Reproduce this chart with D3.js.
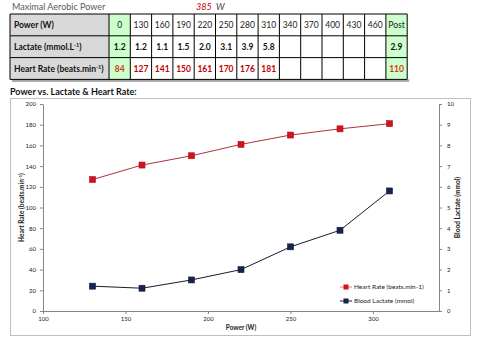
<!DOCTYPE html>
<html>
<head>
<meta charset="utf-8">
<script src="https://cdn.jsdelivr.net/npm/d3@7"></script>
<style>
  body { margin: 0; background: #fff; }
  svg { display: block; font-family: Lato, 'Open Sans', sans-serif; }
</style>
</head>
<body>
<div id="chart"></div>
<script>
// table data
const powerCols = [0, 130, 160, 190, 220, 250, 280, 310, 340, 370, 400, 430, 460, 'Post']
const lactateRow = [1.2, 1.2, 1.1, 1.5, 2.0, 3.1, 3.9, 5.8, null, null, null, null, null, 2.9]
const heartRateRow = [84, 127, 141, 150, 161, 170, 176, 181, null, null, null, null, null, 110]
const rowLabels = ['Power (W)', 'Lactate (mmol.L', 'Heart Rate (beats.min']
const maxAerobicPower = 385

// chart axes
const xTicks = [100, 150, 200, 250, 300]
const hrTicks = [0, 20, 40, 60, 80, 100, 120, 140, 160, 180, 200]
const lacTicks = [0, 1, 2, 3, 4, 5, 6, 7, 8, 9, 10]

const width = 480
const height = 354
const RED = '#c00000'
const HR_COLOR = '#d4121e'
const LAC_COLOR = '#17234f'

const svg = d3.select('#chart').append('svg')
  .attr('width', width)
  .attr('height', height)

svg.append('rect').attr('width', width).attr('height', height).attr('fill', '#fff')

// header text
svg.append('text')
  .attr('x', 12).attr('y', 10)
  .style('font-size', '9px').style('fill', '#595959')
  .text('Maximal Aerobic Power')
svg.append('text')
  .attr('x', 196).attr('y', 10)
  .style('font-size', '9px').style('fill', RED).style('font-style', 'italic')
  .text(maxAerobicPower)
svg.append('text')
  .attr('x', 216).attr('y', 10)
  .style('font-size', '9px').style('fill', '#404040').style('font-style', 'italic')
  .text('W')

// Table
const tbl = { left: 10, top: 14, labelW: 99, colW: 21.3, rowH: 21.8 }
const colX = i => tbl.left + tbl.labelW + i * tbl.colW
const rowY = r => tbl.top + r * tbl.rowH
const tableRight = colX(powerCols.length)
const tableBottom = rowY(3)

const table = svg.append('g')

// shadow
table.append('rect')
  .attr('x', tbl.left + 2).attr('y', tableBottom)
  .attr('width', tableRight - tbl.left).attr('height', 2.5)
  .attr('fill', '#a6a6a6')

table.append('rect')
  .attr('x', tbl.left).attr('y', tbl.top)
  .attr('width', tbl.labelW).attr('height', tableBottom - tbl.top)
  .attr('fill', '#d9d9d9')

const greenCols = [0, powerCols.length - 1]
table.selectAll('.green')
  .data(greenCols)
  .enter().append('rect')
  .attr('x', d => colX(d)).attr('y', tbl.top)
  .attr('width', tbl.colW).attr('height', tableBottom - tbl.top)
  .attr('fill', '#ccffcc')

// grid lines
d3.range(4).forEach(r => {
  table.append('line')
    .attr('x1', tbl.left).attr('x2', tableRight)
    .attr('y1', rowY(r)).attr('y2', rowY(r))
    .attr('stroke', '#000').attr('stroke-width', 1)
})
;[tbl.left].concat(d3.range(powerCols.length + 1).map(colX)).forEach(x => {
  table.append('line')
    .attr('x1', x).attr('x2', x)
    .attr('y1', tbl.top).attr('y2', tableBottom)
    .attr('stroke', '#000').attr('stroke-width', 1)
})

// row labels
rowLabels.forEach((lab, r) => {
  const t = table.append('text')
    .attr('x', tbl.left + 4).attr('y', rowY(r) + tbl.rowH / 2 + 3.5)
    .style('font-size', '8.5px').style('font-weight', 'bold').style('fill', '#111')
    .text(lab)
  if (r > 0) {
    t.append('tspan').attr('dy', -3).style('font-size', '5.5px').text('-1')
    t.append('tspan').attr('dy', 3).text(')')
  }
})

const cellText = (values, r, fmt, color, bold) => {
  table.selectAll('.row' + r)
    .data(values.map((v, i) => ({ v, i })).filter(d => d.v !== null))
    .enter().append('text')
    .attr('x', d => colX(d.i) + tbl.colW / 2)
    .attr('y', rowY(r) + tbl.rowH / 2 + 3.5)
    .attr('text-anchor', 'middle')
    .style('font-size', '8.5px')
    .style('font-weight', bold ? 'bold' : 'normal')
    .style('fill', d => color(d))
    .text(d => fmt(d.v))
}
cellText(powerCols, 0, v => v, () => '#222', false)
cellText(lactateRow, 1, v => d3.format('.1f')(v), () => '#111', true)
cellText(heartRateRow, 2, v => v, d => greenCols.includes(d.i) ? '#d03a1a' : RED, true)

// chart title
svg.append('text')
  .attr('x', 10).attr('y', 95)
  .style('font-size', '9px').style('font-weight', 'bold').style('fill', '#111')
  .text('Power vs. Lactate & Heart Rate:')

// chart frame
svg.append('rect')
  .attr('x', 10.5).attr('y', 98.5).attr('width', 460).attr('height', 237)
  .attr('fill', 'none').attr('stroke', '#bfbfbf')

const plot = { left: 43, right: 439, top: 104, bottom: 311 }

const x = d3.scaleLinear().domain([100, 340]).range([plot.left, plot.right])
const yHR = d3.scaleLinear().domain([0, 200]).range([plot.bottom, plot.top])
const yLac = d3.scaleLinear().domain([0, 10]).range([plot.bottom, plot.top])

const styleAxis = g => {
  g.select('.domain').attr('stroke', '#868686')
  g.selectAll('.tick line').attr('stroke', '#868686')
  g.selectAll('.tick text').style('font-size', '6px').style('fill', '#222').style('font-family', 'Lato, sans-serif')
}

svg.append('g')
  .attr('transform', `translate(0,${plot.bottom})`)
  .call(d3.axisBottom(x).tickValues(xTicks).tickSize(3).tickSizeOuter(0).tickPadding(3))
  .call(styleAxis)

svg.append('g')
  .attr('transform', `translate(${plot.left},0)`)
  .call(d3.axisLeft(yHR).tickValues(hrTicks).tickSize(3).tickSizeOuter(0).tickPadding(4))
  .call(styleAxis)

svg.append('g')
  .attr('transform', `translate(${plot.right},0)`)
  .call(d3.axisRight(yLac).tickValues(lacTicks).tickSize(3).tickSizeOuter(0).tickPadding(5))
  .call(styleAxis)

// axis titles
svg.append('text')
  .attr('x', 241).attr('y', 330)
  .attr('text-anchor', 'middle')
  .style('font-size', '6.5px').style('font-weight', 'bold').style('fill', '#222')
  .text('Power (W)')

const hrLabel = svg.append('text')
  .attr('transform', `translate(24,${(plot.top + plot.bottom) / 2}) rotate(-90)`)
  .attr('text-anchor', 'middle')
  .style('font-size', '6.5px').style('font-weight', 'bold').style('fill', '#222')
  .text('Heart Rate (beats.min')
hrLabel.append('tspan').attr('dy', -2).style('font-size', '4.5px').text('-1')
hrLabel.append('tspan').attr('dy', 2).text(')')

svg.append('text')
  .attr('transform', `translate(460,${(plot.top + plot.bottom) / 2}) rotate(-90)`)
  .attr('text-anchor', 'middle')
  .style('font-size', '6.5px').style('font-weight', 'bold').style('fill', '#222')
  .text('Blood Lactate (mmol)')

// series from the table (exercise stages with values)
const stageIdx = powerCols.map((p, i) => i).filter(i => typeof powerCols[i] === 'number' && powerCols[i] > 0 && heartRateRow[i] !== null)
const hrData = stageIdx.map(i => ({ p: powerCols[i], v: heartRateRow[i] }))
const lacData = stageIdx.map(i => ({ p: powerCols[i], v: lactateRow[i] }))

const drawSeries = (data, yScale, color, lineColor) => {
  svg.append('path')
    .datum(data)
    .attr('fill', 'none')
    .attr('stroke', lineColor)
    .attr('stroke-width', 1)
    .attr('d', d3.line().x(d => x(d.p)).y(d => yScale(d.v)))
  svg.append('g').selectAll('rect')
    .data(data)
    .enter().append('rect')
    .attr('x', d => x(d.p) - 3)
    .attr('y', d => yScale(d.v) - 3)
    .attr('width', 6).attr('height', 6)
    .attr('fill', color)
    .attr('stroke', d3.color(color).darker(0.6))
    .attr('stroke-width', 0.6)
}
drawSeries(hrData, yHR, HR_COLOR, '#b0303a')
drawSeries(lacData, yLac, LAC_COLOR, '#1a1a30')

// legend
const legend = svg.append('g').attr('transform', 'translate(340,287)')
const legendItems = [
  { label: 'Heart Rate (beats.min-1)', color: HR_COLOR, line: '#e08080' },
  { label: 'Blood Lactate (mmol)', color: LAC_COLOR, line: '#1a1a30' }
]
legendItems.forEach((d, i) => {
  const g = legend.append('g').attr('transform', `translate(0,${i * 14})`)
  g.append('line').attr('x1', 0).attr('x2', 12).attr('stroke', d.line).attr('stroke-width', 1)
  g.append('rect').attr('x', 3.5).attr('y', -2.5).attr('width', 5).attr('height', 5).attr('fill', d.color)
  g.append('text').attr('x', 14).attr('y', 2.3)
    .style('font-size', '6.5px').style('fill', '#222')
    .text(d.label)
})
</script>
</body>
</html>
